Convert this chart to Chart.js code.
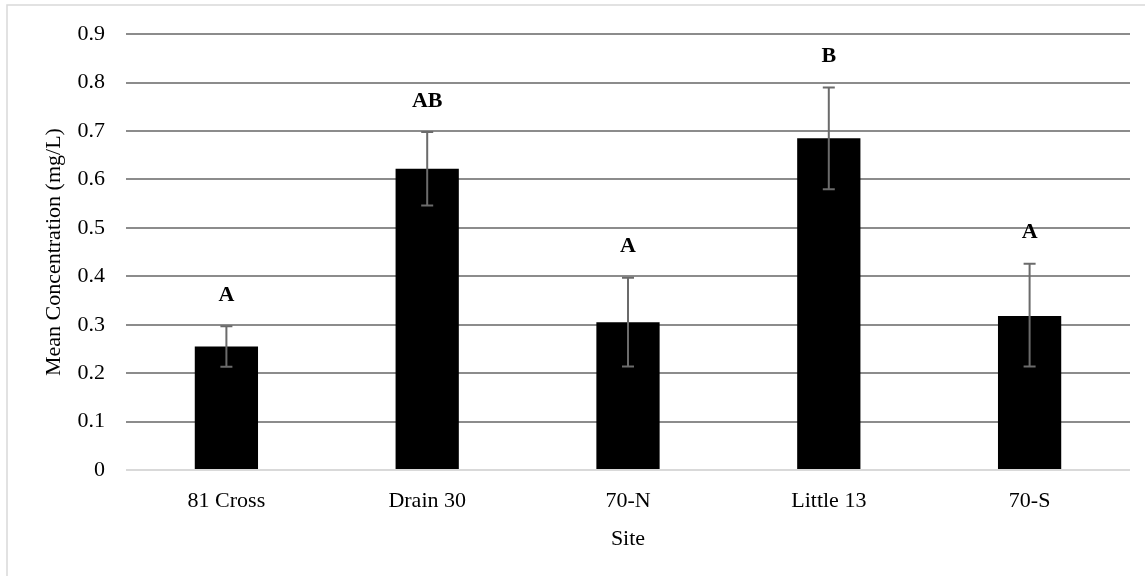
<!DOCTYPE html>
<html>
<head>
<meta charset="utf-8">
<script src="https://cdn.jsdelivr.net/npm/chart.js@4.4.1/dist/chart.umd.min.js"></script>
<style>
  body { margin:0; background:#fff; }
  #wrap { width:1145px; height:576px; }
</style>
</head>
<body>
<div id="wrap"><canvas id="chart" width="1145" height="576"></canvas></div>
<script>
// Data
const sites = ["81 Cross", "Drain 30", "70-N", "Little 13", "70-S"];
const meanConc = [0.255, 0.622, 0.305, 0.685, 0.318];
const errHigh = [0.297, 0.698, 0.397, 0.790, 0.426];
const errLow = [0.213, 0.546, 0.214, 0.580, 0.214];
const sigLetters = ["A", "AB", "A", "B", "A"];
const yTicks = [0, 0.1, 0.2, 0.3, 0.4, 0.5, 0.6, 0.7, 0.8, 0.9];

const FONT = "'Liberation Serif', 'Times New Roman', serif";

// chart border
const borderPlugin = {
  id: "border",
  beforeDraw(chart){
    const c = chart.ctx;
    c.save();
    c.strokeStyle = "#d9d9d9";
    c.lineWidth = 1.5;
    c.strokeRect(7, 5, 1140, 575);
    c.restore();
  }
};

// error bars + significance letters
const errorPlugin = {
  id: "errbars",
  afterDatasetsDraw(chart){
    const c = chart.ctx;
    const xs = chart.scales.x, ys = chart.scales.y;
    c.save();
    c.strokeStyle = "#6b6b6b";
    c.lineWidth = 2;
    sites.forEach((s,i)=>{
      const x = xs.getPixelForValue(i);
      const yh = ys.getPixelForValue(errHigh[i]);
      const yl = ys.getPixelForValue(errLow[i]);
      c.beginPath();
      c.moveTo(x, yh); c.lineTo(x, yl);
      c.moveTo(x-6, yh); c.lineTo(x+6, yh);
      c.moveTo(x-6, yl); c.lineTo(x+6, yl);
      c.stroke();
    });
    c.fillStyle = "#000";
    c.font = "bold 22px " + FONT;
    c.textAlign = "center";
    c.textBaseline = "middle";
    sites.forEach((s,i)=>{
      const x = xs.getPixelForValue(i);
      const yh = ys.getPixelForValue(errHigh[i]);
      c.fillText(sigLetters[i], x, yh - 31);
    });
    c.restore();
  }
};

const ctx = document.getElementById("chart").getContext("2d");
new Chart(ctx, {
  type: "bar",
  data: {
    labels: sites,
    datasets: [{
      data: meanConc,
      backgroundColor: "#000",
      borderWidth: 0,
      categoryPercentage: 1,
      barPercentage: 0.315
    }]
  },
  options: {
    responsive: false,
    animation: false,
    events: [],
    layout: { padding: { left: 28, right: 15, top: 24, bottom: 0 } },
    plugins: { legend: { display: false }, tooltip: { enabled: false } },
    scales: {
      x: {
        grid: { display: false, drawTicks: false },
        border: { display: false },
        ticks: { color: "#000", font: { family: FONT, size: 22 }, padding: 18, maxRotation: 0 },
        title: { display: true, text: "Site", color: "#000", font: { family: FONT, size: 22 }, padding: { top: 6, bottom: 24 } },
        afterFit(scale){ scale.height = 576 - 470; }
      },
      y: {
        min: 0, max: 0.9,
        afterBuildTicks(scale){ scale.ticks = yTicks.map(v => ({ value: v })); },
        grid: {
          drawTicks: false,
          lineWidth: 2,
          color: ctx => ctx.tick && ctx.tick.value === 0 ? "#d9d9d9" : "#8c8c8c"
        },
        border: { display: false },
        ticks: {
          color: "#000", font: { family: FONT, size: 22 }, padding: 21,
          callback: v => String(Number(v.toFixed(1)))
        },
        title: { display: true, text: "Mean Concentration (mg/L)", color: "#000", font: { family: FONT, size: 22 }, padding: { top: 13, bottom: 0 } },
        afterFit(scale){ scale.width = 126 - 28; }
      }
    }
  },
  plugins: [borderPlugin, errorPlugin]
});
</script>
</body>
</html>
